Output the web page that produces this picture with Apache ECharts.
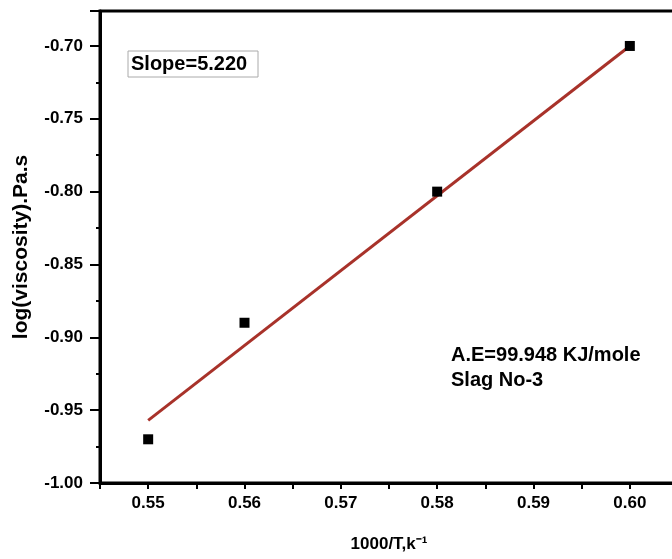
<!DOCTYPE html>
<html><head><meta charset="utf-8">
<script src="https://cdn.jsdelivr.net/npm/echarts@6/dist/echarts.min.js"></script>
<style>html,body{margin:0;padding:0;background:#fff}#c{width:672px;height:559px}</style>
</head><body><div id="c"></div>
<script>
var xValues = [0.55, 0.56, 0.58, 0.60];
var yValues = [-0.97, -0.89, -0.80, -0.70];
var fitX = [0.55, 0.60];
var fitY = [-0.957, -0.700];
var xTicks = ['0.55', '0.56', '0.57', '0.58', '0.59', '0.60'];
var yTicks = ['-1.00', '-0.95', '-0.90', '-0.85', '-0.80', '-0.75', '-0.70'];

var chart = echarts.init(document.getElementById('c'));
var font = '"Liberation Sans", Arial, sans-serif';
chart.setOption({
  animation: false,
  backgroundColor: '#fff',
  grid: {left: 100, top: 11, width: 578, bottom: 76, outerBoundsMode: 'none', containLabel: false, show: true, borderColor: '#000', borderWidth: 3, backgroundColor: 'transparent'},
  xAxis: {
    type: 'value', min: 0.545, max: 0.605, interval: 0.005,
    name: '1000/T,k⁻¹', nameLocation: 'middle', nameGap: 53,
    nameTextStyle: {fontFamily: font, fontWeight: 'bold', fontSize: 17, color: '#000'},
    axisLine: {show: true, lineStyle: {color: '#000', width: 3}},
    axisTick: {show: true, length: 6, lineStyle: {color: '#000', width: 2}},
    splitLine: {show: false},
    axisLabel: {
      margin: 12, fontFamily: font, fontWeight: 'bold', fontSize: 17, color: '#000',
      formatter: function (v) { var s = v.toFixed(2); return (xTicks.indexOf(s) >= 0 && Math.abs(v*100 - Math.round(v*100)) < 1e-6) ? s : ''; }
    }
  },
  yAxis: {
    type: 'value', min: -1.0, max: -0.676, interval: 0.05,
    name: 'log(viscosity).Pa.s', nameLocation: 'middle', nameGap: 68, nameRotate: 90,
    nameTextStyle: {fontFamily: font, fontWeight: 'bold', fontSize: 21, color: '#000'},
    axisLine: {show: true, lineStyle: {color: '#000', width: 3}},
    axisTick: {show: true, length: 10, lineStyle: {color: '#000', width: 2}},
    minorTick: {show: true, splitNumber: 2, length: 4, lineStyle: {color: '#000', width: 2}},
    splitLine: {show: false},
    axisLabel: {
      margin: 17, fontFamily: font, fontWeight: 'bold', fontSize: 17, color: '#000', showMaxLabel: false,
      formatter: function (v) { var s = v.toFixed(2); return yTicks.indexOf(s) >= 0 ? s : ''; }
    }
  },
  series: [
    {
      type: 'line', data: fitX.map(function (x, i) { return [x, fitY[i]]; }),
      showSymbol: false, symbol: 'none', lineStyle: {color: '#a8322a', width: 3}, z: 2
    },
    {
      type: 'scatter', data: xValues.map(function (x, i) { return [x, yValues[i]]; }),
      symbol: 'rect', symbolSize: 10, itemStyle: {color: '#000', opacity: 1}, z: 3
    }
  ],
  graphic: [
    {type: 'rect', shape: {x: 128, y: 51, width: 130, height: 26}, style: {fill: '#fff', stroke: '#aaa', lineWidth: 1}, z: 10},
    {type: 'text', x: 131, y: 64, style: {text: 'Slope=5.220', font: 'bold 20px ' + font, fill: '#000', textVerticalAlign: 'middle', verticalAlign: 'middle'}, z: 11},
    {type: 'text', x: 451, y: 355, style: {text: 'A.E=99.948 KJ/mole', font: 'bold 20px ' + font, fill: '#000', verticalAlign: 'middle', textVerticalAlign: 'middle'}, z: 11},
    {type: 'text', x: 451, y: 380, style: {text: 'Slag No-3', font: 'bold 20px ' + font, fill: '#000', verticalAlign: 'middle', textVerticalAlign: 'middle'}, z: 11}
  ]
});
</script></body></html>
